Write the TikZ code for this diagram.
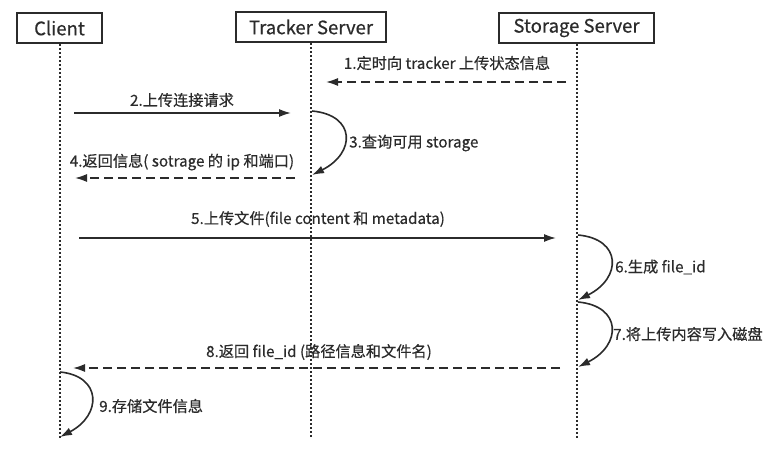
\documentclass[tikz,border=0pt]{standalone}
\usepackage{fontspec}
\setmainfont{Noto Sans CJK SC}[FakeBold=0.5]
\usepackage{tikz}
\usetikzlibrary{positioning,arrows.meta}
\definecolor{ink}{HTML}{2B2B2B}

\begin{document}
\begin{tikzpicture}[x=1pt,y=-1pt]
\tikzstyle{every node}+=[inner sep=0pt,text=ink]
\tikzstyle{actor}=[draw=ink,line width=1.9pt,minimum height=30pt,font=\fontsize{18.5}{20}\selectfont]
\tikzstyle{life}=[ink,line width=2pt,dash pattern=on 2pt off 2pt]
\tikzstyle{msg}=[ink,line width=1.6pt,-{Latex[length=12pt,width=8pt]}]
\tikzstyle{reply}=[msg,dash pattern=on 9pt off 5pt]
\tikzstyle{lbl}=[font=\fontsize{15.2}{17}\selectfont]
\useasboundingbox (0,0) rectangle (783,468);
% actors and lifelines
\node[actor,minimum width=85pt] (client) at (59.5,28) {Client};
\node[actor,minimum width=150pt] (tracker) at (311,27) {Tracker Server};
\node[actor,minimum width=155pt] (storage) at (576.5,28) {Storage Server};
\coordinate (clientend) at (59.5,438);
\coordinate (trackerend) at (311,438);
\coordinate (storageend) at (576.5,438);
\draw[life] (client.south) -- (clientend);
\draw[life] (tracker.south) -- (trackerend);
\draw[life] (storage.south) -- (storageend);
% 1
\coordinate (s1) at (566,82);
\coordinate (t1) at (326,82);
\draw[reply] (s1) -- (t1);
\node[lbl] (m1) at (447,63) {1.定时向 tracker 上传状态信息};
% 2
\coordinate (c2) at (74,113);
\coordinate (t2) at (291,113);
\draw[msg] (c2) -- (t2);
\node[lbl] (m2) at (182,100) {2.上传连接请求};
% 3
\coordinate (t3a) at (312,111);
\coordinate (t3b) at (312,175);
\draw[msg] (t3a) .. controls +(44,4) and +(44,-22) .. (t3b);
\node[lbl,anchor=west] (m3) at (349,143) {3.查询可用 storage};
% 4
\coordinate (t4) at (295,178);
\coordinate (c4) at (75,178);
\draw[reply] (t4) -- (c4);
\node[lbl] (m4) at (182,162) {4.返回信息( sotrage 的 ip 和端口)};
% 5
\coordinate (c5) at (79,238);
\coordinate (s5) at (556,238);
\draw[msg] (c5) -- (s5);
\node[lbl] (m5) at (318,219) {5.上传文件(file content 和 metadata)};
% 6
\coordinate (s6a) at (578,235);
\coordinate (s6b) at (578,300);
\draw[msg] (s6a) .. controls +(44,4) and +(44,-22) .. (s6b);
\node[lbl,anchor=west] (m6) at (615,267) {6.生成 file\_id};
% 7
\coordinate (s7a) at (578,302);
\coordinate (s7b) at (578,367);
\draw[msg] (s7a) .. controls +(44,4) and +(44,-22) .. (s7b);
\node[lbl,anchor=west] (m7) at (613,334) {7.将上传内容写入磁盘};
% 8
\coordinate (s8) at (560,368);
\coordinate (c8) at (73,368);
\draw[reply] (s8) -- (c8);
\node[lbl] (m8) at (319,352) {8.返回 file\_id (路径信息和文件名)};
% 9
\coordinate (c9a) at (60,372);
\coordinate (c9b) at (60,437);
\draw[msg] (c9a) .. controls +(42,4) and +(42,-22) .. (c9b);
\node[lbl,anchor=west] (m9) at (99,406) {9.存储文件信息};
\end{tikzpicture}
\end{document}
